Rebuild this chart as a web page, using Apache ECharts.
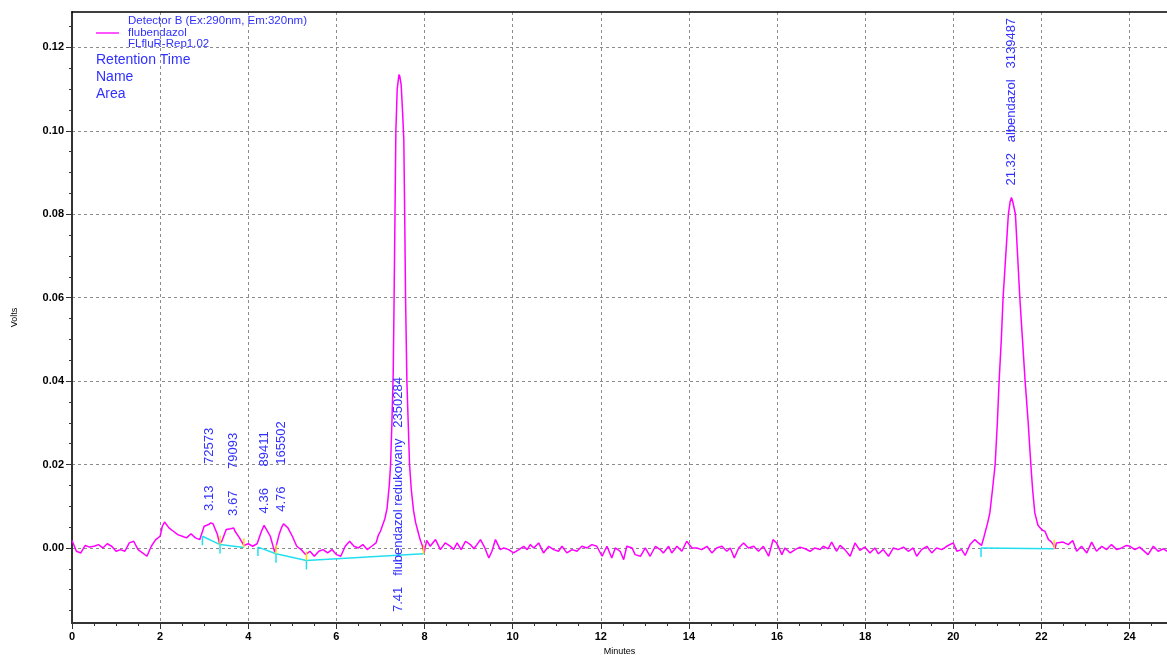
<!DOCTYPE html>
<html>
<head>
<meta charset="utf-8">
<title>flubendazol</title>
<script src="https://cdn.jsdelivr.net/npm/echarts@6.0.0/dist/echarts.min.js"></script>
<style>
html, body { width: 100%; height: 100%; margin: 0; padding: 0; background: #fff; }
#chart { width: 1167px; height: 655px; }
</style>
</head>
<body>
<div id="chart"></div>
<script>
// detector trace, [minutes, volts]
var seg1 = [[0,0.0018],[0.1,-0.0008],[0.2,-0.0012],[0.3,0.0006],[0.4,0.0002],[0.5,0.0004],[0.6,0.0008],[0.7,0.0000],[0.8,0.0010],[0.9,0.0004],
  [1.0,-0.0008],[1.1,-0.0004],[1.2,-0.0008],[1.3,0.0012],[1.4,0.0016],[1.5,-0.0004],[1.6,-0.0012],[1.7,-0.0020],[1.8,0.0004],[1.9,0.0020],
  [2.0,0.0028],[2.05,0.0052],[2.1,0.0062],[2.2,0.0048],[2.3,0.0040],[2.4,0.0032],[2.5,0.0028],[2.6,0.0024],[2.7,0.0034],[2.8,0.0024],[2.9,0.0020],
  [3.0,0.0052],[3.1,0.0056],[3.15,0.0060],[3.2,0.0058],[3.3,0.0032],[3.35,0.0010],[3.4,0.0016],[3.5,0.0044],[3.6,0.0046],[3.67,0.0048],[3.7,0.0040],
  [3.8,0.0024],[3.9,0.0006],[4.0,0.0010],[4.1,0.0004],[4.2,0.0010],[4.3,0.0040],[4.36,0.0054],[4.4,0.0052],[4.5,0.0028],[4.6,-0.0010],[4.7,0.0032],
  [4.76,0.0050],[4.8,0.0058],[4.9,0.0048],[5.0,0.0028],[5.1,0.0004],[5.2,-0.0004],[5.3,-0.0016],[5.4,-0.0008],[5.5,-0.0020],[5.6,-0.0008],
  [5.7,-0.0004],[5.8,-0.0012],[5.9,-0.0004],[6.0,-0.0016],[6.1,-0.0020],[6.2,0.0004],[6.3,0.0016],[6.4,0.0004],[6.5,0.0000],[6.6,0.0008],
  [6.7,-0.0004],[6.8,0.0004],[6.9,0.0012]];
var peak1 = [[6.95,0.0030],[7.0,0.0040],[7.05,0.0055],[7.1,0.0070],[7.15,0.0095],[7.2,0.0150],[7.23,0.0200],[7.26,0.0300],[7.29,0.0420],
  [7.31,0.0600],[7.33,0.0800],[7.35,0.1000],[7.38,0.1100],[7.42,0.1135],[7.44,0.1130],[7.47,0.1110],[7.5,0.1050],[7.53,0.0980],[7.55,0.0800],
  [7.57,0.0600],[7.60,0.0400],[7.63,0.0300],[7.66,0.0200],[7.70,0.0140],[7.75,0.0090],[7.80,0.0060],[7.85,0.0040],[7.90,0.0020],[7.95,0.0005],[7.99,-0.0012]];
var seg2 = [[8.05,0.0018],[8.13,0.0004],[8.25,0.0020],[8.36,-0.0004],[8.47,0.0012],[8.59,0.0004],[8.66,-0.0004],[8.74,0.0012],[8.83,-0.0004],
  [8.93,0.0016],[9.04,0.0008],[9.12,-0.0002],[9.19,0.0008],[9.27,0.0020],[9.37,0.0000],[9.46,-0.0024],[9.53,-0.0008],[9.61,0.0020],[9.72,-0.0004],
  [9.80,0.0000],[9.91,-0.0004],[10.02,-0.0012],[10.14,-0.0004],[10.25,0.0004],[10.33,-0.0004],[10.40,0.0008],[10.48,0.0000],[10.59,0.0012],
  [10.70,-0.0012],[10.82,0.0004],[10.93,-0.0004],[11.04,-0.0008],[11.12,0.0004],[11.23,-0.0012],[11.35,-0.0004],[11.46,-0.0008],[11.57,0.0004],
  [11.69,0.0000],[11.80,0.0008],[11.91,0.0004],[12.03,-0.0020],[12.14,0.0004],[12.25,-0.0024],[12.33,0.0000],[12.44,-0.0008],[12.52,-0.0028],
  [12.59,0.0004],[12.71,0.0000],[12.78,-0.0016],[12.90,-0.0020],[13.01,0.0000],[13.12,-0.0020],[13.24,0.0004],[13.35,-0.0004],[13.42,-0.0012],
  [13.54,0.0004],[13.61,-0.0012],[13.73,0.0004],[13.84,-0.0008],[13.95,0.0016],[14.07,0.0000],[14.18,0.0000],[14.29,-0.0004],[14.41,0.0004],
  [14.52,-0.0012],[14.63,0.0000],[14.75,0.0004],[14.86,-0.0008],[14.94,0.0000],[15.03,-0.0024],[15.13,0.0000],[15.24,0.0012],[15.35,0.0000],
  [15.47,0.0004],[15.58,-0.0008],[15.69,0.0004],[15.81,-0.0020],[15.91,0.0020],[15.99,0.0012],[16.11,-0.0016],[16.18,0.0000],[16.30,-0.0012],
  [16.41,-0.0004],[16.52,0.0002],[16.64,-0.0002],[16.75,-0.0008],[16.86,0.0000],[16.98,-0.0004],[17.05,0.0004],[17.16,-0.0002],[17.24,0.0014],
  [17.35,-0.0008],[17.43,0.0006],[17.54,-0.0004],[17.66,-0.0020],[17.77,0.0012],[17.88,-0.0006],[17.99,0.0002],[18.11,-0.0012],[18.22,0.0000],
  [18.30,-0.0014],[18.41,-0.0004],[18.53,-0.0020],[18.64,0.0000],[18.75,-0.0004],[18.87,0.0002],[18.98,-0.0008],[19.09,0.0000],[19.17,-0.0020],
  [19.28,-0.0004],[19.40,0.0004],[19.51,-0.0012],[19.62,0.0000],[19.74,-0.0004],[19.85,0.0004],[20.00,0.0012],[20.08,-0.0008],[20.19,-0.0004],
  [20.27,-0.0018],[20.38,0.0008],[20.49,0.0020],[20.57,0.0012]];
var peak2 = [[20.64,0.0006],[20.68,0.0020],[20.72,0.0036],[20.78,0.0060],[20.83,0.0084],[20.89,0.0140],[20.95,0.0200],[21.00,0.0300],
  [21.04,0.0400],[21.09,0.0500],[21.13,0.0600],[21.19,0.0700],[21.25,0.0800],[21.29,0.0830],[21.32,0.0840],[21.35,0.0830],[21.41,0.0800],
  [21.46,0.0700],[21.51,0.0600],[21.57,0.0500],[21.63,0.0400],[21.70,0.0300],[21.76,0.0200],[21.80,0.0140],[21.85,0.0084],[21.92,0.0055],
  [21.97,0.0048],[22.03,0.0042],[22.08,0.0040],[22.16,0.0020],[22.22,0.0015],[22.27,0.0008],[22.31,-0.0002]];
var seg3 = [[22.34,0.0012],[22.49,0.0014],[22.61,0.0008],[22.71,0.0018],[22.80,-0.0008],[22.91,0.0004],[23.03,-0.0012],[23.14,0.0014],
  [23.25,-0.0008],[23.37,0.0004],[23.48,-0.0004],[23.59,0.0008],[23.71,-0.0004],[23.82,0.0000],[23.93,0.0006],[24.01,0.0004],[24.12,-0.0004],
  [24.23,0.0002],[24.42,-0.0016],[24.54,0.0004],[24.65,-0.0008],[24.77,-0.0002],[24.85,-0.0008]];

// integration baselines and peak start / end marks
var baseline1 = [[2.96,0.0028],[3.36,0.0008],[3.90,0.0001]];
var baseline2 = [[4.22,0.0002],[4.63,-0.0014],[5.32,-0.0030],[7.98,-0.0014]];
var baseline3 = [[20.63,0.0000],[22.29,-0.0002]];
var startMarks = [[2.96,0.0028],[3.36,0.0008],[4.22,0.0002],[4.63,-0.0014],[5.32,-0.0030],[20.63,0.0000]];
var endMarks = [[3.36,0.0008],[3.90,0.0001],[4.63,-0.0014],[5.32,-0.0030],[7.98,-0.0014],[22.29,-0.0002]];

// peak table
var peakRT = ['3.13', '3.67', '4.36', '4.76', '7.41', '21.32'];
var peakNames = ['', '', '', '', 'flubendazol redukovany', 'albendazol'];
var peakAreas = ['72573', '79093', '89411', '165502', '2350284', '3139487'];
var peakApex = [0.0060, 0.0048, 0.0054, 0.0058, 0.1135, 0.0840];

var yTicks = [0, 0.02, 0.04, 0.06, 0.08, 0.10, 0.12];
var yMinorTicks = [-0.015, -0.01, -0.005, 0.005, 0.01, 0.015, 0.025, 0.03, 0.035, 0.045, 0.05, 0.055, 0.065, 0.07, 0.075,
  0.085, 0.09, 0.095, 0.105, 0.11, 0.115, 0.125];

var trace = seg1.concat(peak1, seg2, peak2, seg3);
var blue = '#3030ff';
var labelFont = '13px "Liberation Sans"';
var measureCtx = document.createElement('canvas').getContext('2d');
measureCtx.font = labelFont;

var chart = echarts.init(document.getElementById('chart'));

function markRenderer(color, dir) {
  return function (params, api) {
    var p = api.coord([api.value(0), api.value(1)]);
    return {
      type: 'line',
      shape: { x1: p[0], y1: p[1], x2: p[0], y2: p[1] + dir * 9 },
      style: { stroke: color, lineWidth: 1.5 }
    };
  };
}

function baseSeries(data) {
  return {
    type: 'line', data: data, showSymbol: false, silent: true, z: 4,
    lineStyle: { color: '#22dfef', width: 1.5 }
  };
}

var dashed = { show: true, lineStyle: { color: '#8c8c8c', type: [3, 3], width: 1 } };

var option = {
  animation: false,
  textStyle: { fontFamily: 'Liberation Sans' },
  grid: { left: 72, right: 0, top: 12, bottom: 32, containLabel: false, outerBoundsMode: 'none' },
  xAxis: [
    {
      type: 'value', min: 0, max: 24.85, interval: 2,
      name: 'Minutes', nameLocation: 'middle', nameGap: 23,
      nameTextStyle: { fontSize: 9, color: '#000' },
      axisLine: { onZero: false, lineStyle: { color: '#333', width: 2 } },
      axisTick: { length: 6, lineStyle: { color: '#333' } },
      minorTick: { show: true, splitNumber: 4, length: 3, lineStyle: { color: '#333' } },
      axisLabel: { fontSize: 11, fontWeight: 'bold', color: '#000', margin: 8, showMaxLabel: false },
      splitLine: dashed
    },
    {
      type: 'value', min: 0, max: 24.85, position: 'top',
      axisLine: { show: true, onZero: false, lineStyle: { color: '#000', width: 1.5 } },
      axisTick: { show: false }, axisLabel: { show: false }, splitLine: { show: false }
    }
  ],
  yAxis: [
    {
      type: 'value', min: -0.018, max: 0.1285,
      name: 'Volts', nameLocation: 'middle', nameGap: 53, nameRotate: 90,
      nameTextStyle: { fontSize: 9, color: '#000' },
      axisLine: { show: true, onZero: false, lineStyle: { color: '#333', width: 2 } },
      axisTick: { show: true, customValues: yTicks, length: 6, lineStyle: { color: '#333' } },
      axisLabel: {
        customValues: yTicks, fontSize: 11, fontWeight: 'bold', color: '#000', margin: 8,
        formatter: function (v) { return v.toFixed(2); }
      },
      splitLine: dashed
    },
    {
      type: 'value', min: -0.018, max: 0.1285, position: 'left',
      axisLine: { show: false, onZero: false },
      axisTick: { show: true, customValues: yMinorTicks, length: 3, lineStyle: { color: '#333' } },
      axisLabel: { show: false }, splitLine: { show: false }
    }
  ],
  graphic: [
    { type: 'text', left: 128, top: 15, style: { text: 'Detector B (Ex:290nm, Em:320nm)', fill: blue, font: '11.5px "Liberation Sans"' } },
    { type: 'line', shape: { x1: 96, y1: 33, x2: 119, y2: 33 }, style: { stroke: '#ff55ff', lineWidth: 2 } },
    { type: 'text', left: 128, top: 27, style: { text: 'flubendazol', fill: blue, font: '11.5px "Liberation Sans"' } },
    { type: 'text', left: 128, top: 38, style: { text: 'FLfluR-Rep1.02', fill: blue, font: '11.5px "Liberation Sans"' } },
    { type: 'text', left: 96, top: 53, style: { text: 'Retention Time', fill: blue, font: '14px "Liberation Sans"' } },
    { type: 'text', left: 96, top: 70, style: { text: 'Name', fill: blue, font: '14px "Liberation Sans"' } },
    { type: 'text', left: 96, top: 87, style: { text: 'Area', fill: blue, font: '14px "Liberation Sans"' } }
  ],
  series: [
    {
      name: 'flubendazol', type: 'line', data: trace, showSymbol: false, silent: true, z: 3,
      lineStyle: { color: '#ff00ff', width: 1.5 }
    },
    baseSeries(baseline1),
    baseSeries(baseline2),
    baseSeries(baseline3),
    { type: 'custom', data: startMarks, renderItem: markRenderer('#22dfef', 1), z: 5, silent: true },
    { type: 'custom', data: endMarks, renderItem: markRenderer('#ffdd00', -1), z: 5, silent: true },
    {
      type: 'custom', z: 6, silent: true, clip: false,
      data: peakRT.map(function (rt, i) { return [parseFloat(rt), peakApex[i], i]; }),
      renderItem: function (params, api) {
        var i = api.value(2);
        var text = peakRT[i] + '   ' + peakNames[i] + '   ' + peakAreas[i];
        var p = api.coord([api.value(0), api.value(1)]);
        var w = measureCtx.measureText(text).width;
        var y = p[1] - 12;
        // not enough room above the peak: write it up from the bottom of the plot
        if (y - w < params.coordSys.y) y = params.coordSys.y + params.coordSys.height - 11;
        return {
          type: 'text', x: p[0], y: y, rotation: Math.PI / 2,
          style: { text: text, fill: blue, font: labelFont, align: 'left', verticalAlign: 'middle' }
        };
      }
    }
  ]
};
chart.setOption(option);
</script>
</body>
</html>
